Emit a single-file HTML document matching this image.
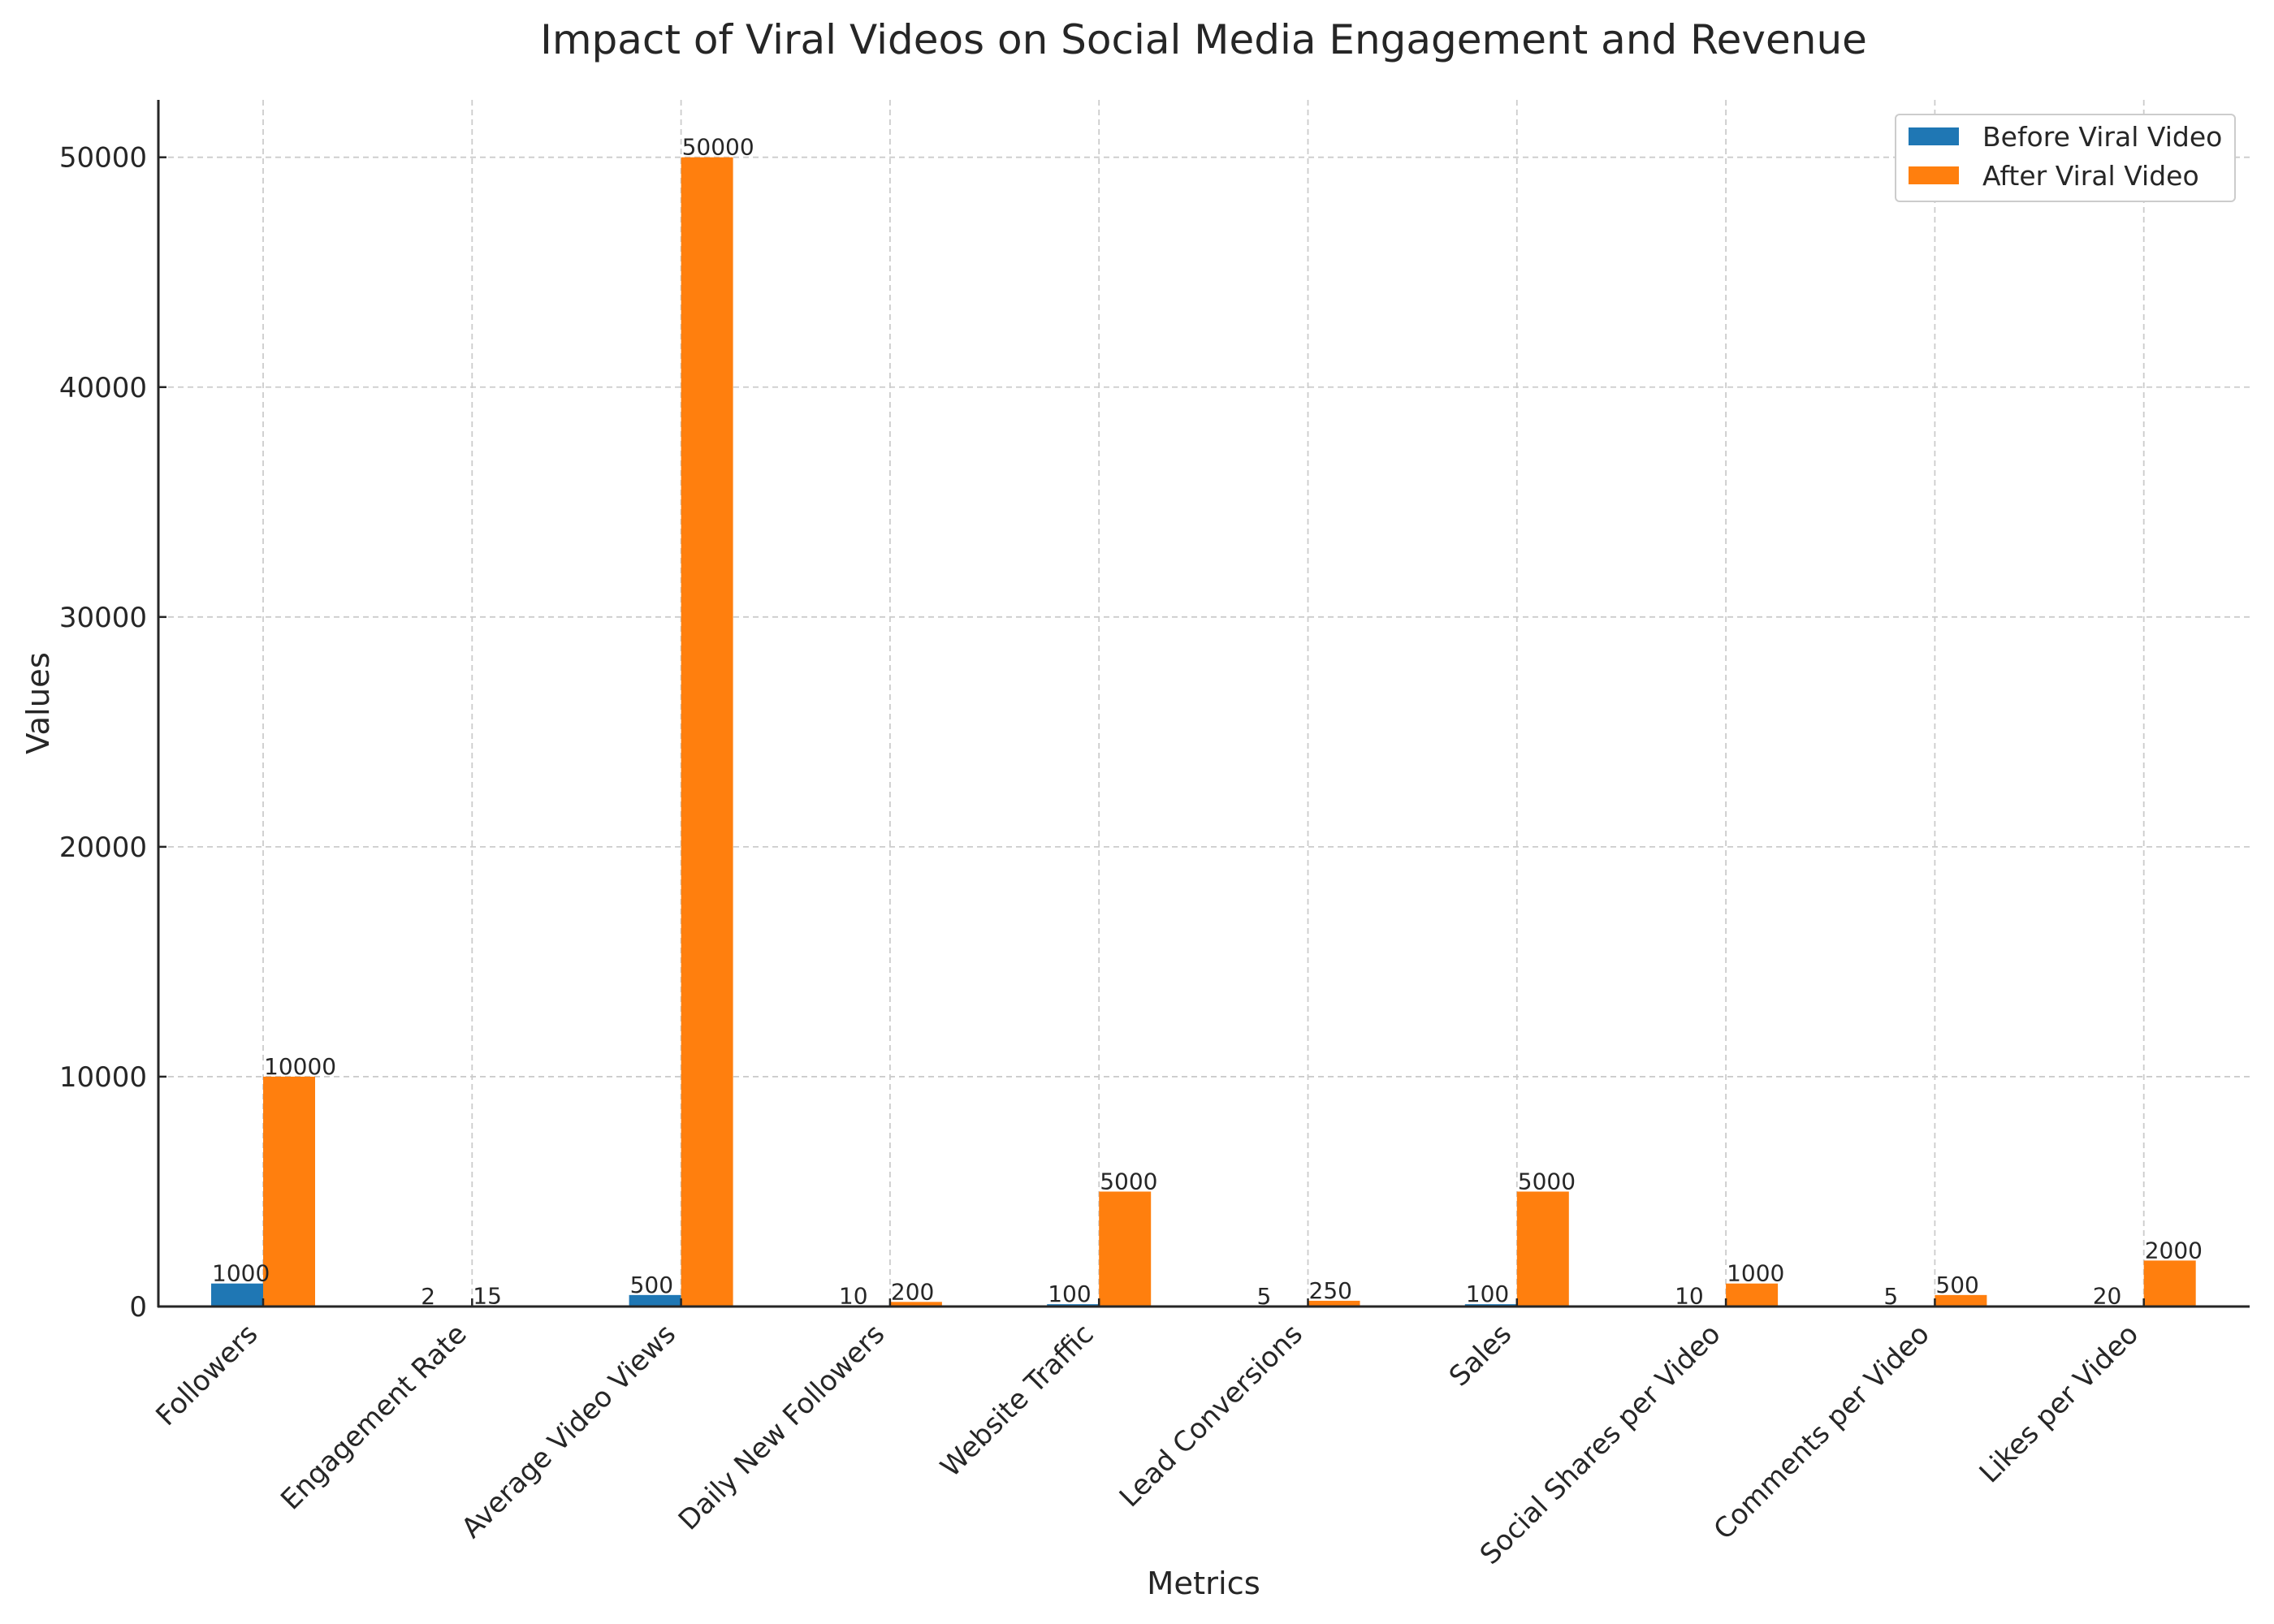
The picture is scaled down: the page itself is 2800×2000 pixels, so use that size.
<!DOCTYPE html>
<html><head><meta charset="utf-8"><style>html,body{margin:0;padding:0;background:#fff}svg{display:block}text{font-family:"DejaVu Sans","Liberation Sans",sans-serif;fill:#262626}</style></head><body>
<svg width="2800" height="2000" viewBox="0 0 2800 2000" xmlns="http://www.w3.org/2000/svg">
<rect width="2800" height="2000" fill="#fff"/>
<g id="grid" stroke="#cccccc" stroke-width="1.8" stroke-dasharray="7,5"></g>
<g id="bars"></g>
<g id="axes"></g>
<text x="1482" y="66" font-size="50" text-anchor="middle">Impact of Viral Videos on Social Media Engagement and Revenue</text>
<text x="1482" y="1963" font-size="38.5" text-anchor="middle">Metrics</text>
<text transform="translate(60,866) rotate(-90)" font-size="38.5" text-anchor="middle">Values</text>
<g>
<rect x="2334" y="141" width="418" height="107" fill="#fff" stroke="#cccccc" stroke-width="2" rx="5"/>
<rect x="2350" y="157" width="62" height="22" fill="#1f77b4"/>
<text x="2441" y="180" font-size="33">Before Viral Video</text>
<rect x="2350" y="205" width="62" height="22" fill="#ff7f0e"/>
<text x="2441" y="228" font-size="33">After Viral Video</text>
</g>
<script>
const names=["Followers","Engagement Rate","Average Video Views","Daily New Followers","Website Traffic","Lead Conversions","Sales","Social Shares per Video","Comments per Video","Likes per Video"];
const b=[1000,2,500,10,100,5,100,10,5,20],a=[10000,15,50000,200,5000,250,5000,1000,500,2000];
const ns="http://www.w3.org/2000/svg";
const Y=v=>1609-v*0.028306, X=i=>324+i*257.3, w=64;
function el(p,t,at,txt){const e=document.createElementNS(ns,t);for(const k in at)e.setAttribute(k,at[k]);if(txt!==undefined)e.textContent=txt;document.getElementById(p).appendChild(e);return e;}
for(let i=0;i<10;i++)el("grid","line",{x1:X(i),x2:X(i),y1:123,y2:1609});
for(let v=10000;v<=50000;v+=10000)el("grid","line",{x1:195,x2:2770,y1:Y(v),y2:Y(v)});
for(let i=0;i<10;i++){
 const x=X(i);
 el("bars","rect",{x:x-w,y:Y(b[i]),width:w,height:1609-Y(b[i]),fill:"#1f77b4"});
 el("bars","rect",{x:x,y:Y(a[i]),width:w,height:1609-Y(a[i]),fill:"#ff7f0e"});
 el("bars","text",{x:x-w+1,y:Y(b[i])-3,"font-size":28},b[i]);
 el("bars","text",{x:x+1,y:Y(a[i])-3,"font-size":28},a[i]);
 el("axes","line",{x1:x,x2:x,y1:1609,y2:1599,stroke:"#262626","stroke-width":2.5});
 el("axes","text",{transform:`translate(${x-5},${1645}) rotate(-45)`,"font-size":34,"text-anchor":"end"},names[i]);
}
for(let v=0;v<=50000;v+=10000){
 el("axes","line",{x1:195,x2:205,y1:Y(v),y2:Y(v),stroke:"#262626","stroke-width":2.5});
 el("axes","text",{x:181,y:Y(v)+12,"font-size":34,"text-anchor":"end"},v);
}
el("axes","line",{x1:195,x2:195,y1:123,y2:1610,stroke:"#262626","stroke-width":3});
el("axes","line",{x1:194,x2:2770,y1:1609,y2:1609,stroke:"#262626","stroke-width":3});
</script>
</svg>
</body></html>
